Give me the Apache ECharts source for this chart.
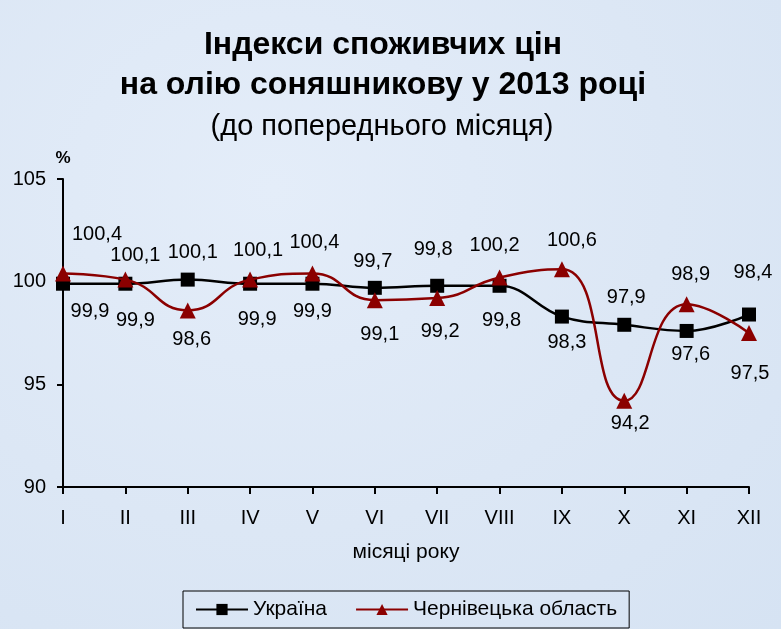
<!DOCTYPE html>
<html>
<head>
<meta charset="utf-8">
<script src="https://cdn.jsdelivr.net/npm/echarts@6/dist/echarts.min.js"></script>
<style>
  html, body { margin: 0; padding: 0; }
  #chart {
    width: 781px;
    height: 629px;
    background: radial-gradient(ellipse at 35% 30%, #e4edf9 0%, #dce7f5 55%, #d6e3f3 100%);
  }
</style>
</head>
<body>
<div id="chart"></div>
<script>
const months = ['I', 'II', 'III', 'IV', 'V', 'VI', 'VII', 'VIII', 'IX', 'X', 'XI', 'XII']
const ukraine = [99.9, 99.9, 100.1, 99.9, 99.9, 99.7, 99.8, 99.8, 98.3, 97.9, 97.6, 98.4]
const chernivtsi = [100.4, 100.1, 98.6, 100.1, 100.4, 99.1, 99.2, 100.2, 100.6, 94.2, 98.9, 97.5]
const yTicks = [90, 95, 100, 105]

// label shifts from each point, in pixels ([dx, dy])
const ukraineLabelShift = [[27, 28], [10, 37], [5, -27], [7, 36], [0, 28], [-2, -26], [-4, -36], [2, 35], [5, 26], [2, -27], [4, 24], [4, -42]]
const chernivtsiLabelShift = [[34, -39], [10, -24], [4, 29], [8, -29], [2, -31], [5, 34], [3, 33], [-5, -32], [10, -29], [6, 23], [4, -30], [1, 40]]

const fmt = v => v.toFixed(1).replace('.', ',')

function withLabels(values, shifts) {
  return values.map((v, i) => ({
    value: v,
    label: { position: 'inside', offset: shifts[i] }
  }))
}

const chart = echarts.init(document.getElementById('chart'))

const font = 'Liberation Sans, Arial, sans-serif'

const option = {
  textStyle: { fontFamily: font },
  title: [
    {
      text: 'Індекси споживчих цін\nна олію соняшникову у 2013 році',
      left: 378,
      textAlign: 'center',
      top: 20,
      textStyle: { fontSize: 32, fontWeight: 'bold', color: '#000', lineHeight: 40, fontFamily: font }
    },
    {
      text: '(до попереднього місяця)',
      left: 377,
      textAlign: 'center',
      top: 107,
      textStyle: { fontSize: 29, fontWeight: 'normal', color: '#000', fontFamily: font }
    }
  ],
  grid: { left: 63, right: 32, top: 179, bottom: 142 },
  legend: {
    bottom: 1,
    left: 183,
    data: ['Україна', 'Чернівецька область'],
    itemWidth: 52,
    itemHeight: 14,
    itemGap: 28,
    padding: [8, 12, 8, 12],
    borderColor: '#000',
    borderWidth: 1,
    backgroundColor: 'transparent',
    textStyle: { fontSize: 21, color: '#000', fontFamily: font }
  },
  xAxis: {
    type: 'category',
    data: months,
    boundaryGap: false,
    name: 'місяці року',
    nameLocation: 'middle',
    nameGap: 55,
    nameTextStyle: { fontSize: 21, color: '#000' },
    axisLine: { lineStyle: { color: '#000', width: 2 } },
    axisTick: { show: true, length: 7, lineStyle: { color: '#000', width: 2 } },
    axisLabel: { fontSize: 20, color: '#000', margin: 21 },
    splitLine: { show: false }
  },
  yAxis: {
    type: 'value',
    min: yTicks[0],
    max: yTicks[yTicks.length - 1],
    interval: 5,
    name: '%',
    nameGap: 12,
    nameTextStyle: { fontSize: 17, fontWeight: 'bold', color: '#000', align: 'center' },
    axisLine: { show: true, lineStyle: { color: '#000', width: 2 } },
    axisTick: { show: true, length: 6, lineStyle: { color: '#000', width: 2 } },
    axisLabel: { fontSize: 20, color: '#000', margin: 17 },
    splitLine: { show: false }
  },
  series: [
    {
      name: 'Україна',
      type: 'line',
      data: withLabels(ukraine, ukraineLabelShift),
      smooth: 0.4,
      symbol: 'rect',
      symbolSize: 14,
      lineStyle: { color: '#000', width: 2.5 },
      itemStyle: { color: '#000' },
      label: { show: true, fontSize: 20, color: '#000', formatter: p => fmt(p.value) },
      z: 3
    },
    {
      name: 'Чернівецька область',
      type: 'line',
      data: withLabels(chernivtsi, chernivtsiLabelShift),
      smooth: 0.5,
      symbol: 'triangle',
      symbolSize: 16,
      lineStyle: { color: '#8b0000', width: 2.5 },
      itemStyle: { color: '#8b0000' },
      label: { show: true, fontSize: 20, color: '#000', formatter: p => fmt(p.value) },
      z: 4
    }
  ]
}

chart.setOption(option)
window.addEventListener('resize', chart.resize)
</script>
</body>
</html>
